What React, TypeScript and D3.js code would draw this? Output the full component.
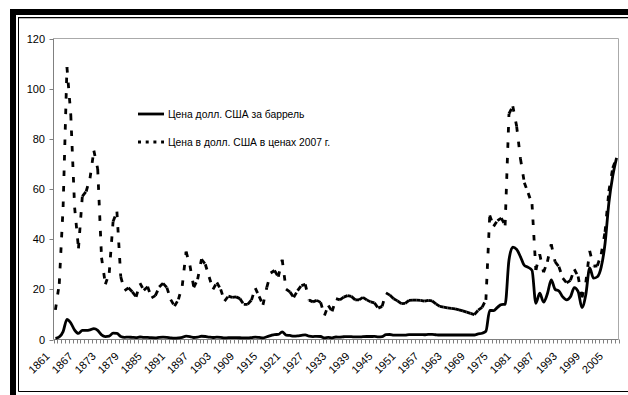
import React from "react";
import * as d3 from "d3";

// Crude oil price, 1861–2007: money of the day and 2007 dollars (USD per barrel)
const years: number[] = d3.range(1861, 2008);

const nominal: number[] = [
  0.49, 1.05, 3.15, 8.06, 6.59, 3.74, 2.41, 3.63, 3.64, 3.86,
  4.34, 3.64, 1.83, 1.17, 1.35, 2.56, 2.42, 1.19, 0.86, 0.95,
  0.86, 0.78, 1.0, 0.84, 0.88, 0.71, 0.67, 0.88, 0.94, 0.87,
  0.67, 0.56, 0.64, 0.84, 1.36, 1.18, 0.79, 0.91, 1.29, 1.19,
  0.96, 0.8, 0.94, 0.86, 0.62, 0.73, 0.72, 0.72, 0.7, 0.61,
  0.61, 0.74, 0.95, 0.81, 0.64, 1.1, 1.56, 1.98, 2.01, 3.07,
  1.73, 1.61, 1.34, 1.43, 1.68, 1.88, 1.3, 1.17, 1.27, 1.19,
  0.65, 0.87, 0.67, 1.0, 0.97, 1.09, 1.18, 1.13, 1.02, 1.02,
  1.14, 1.19, 1.2, 1.21, 1.05, 1.12, 1.9, 1.99, 1.78, 1.71,
  1.71, 1.71, 1.93, 1.93, 1.93, 1.93, 1.9, 2.08, 2.08, 1.9,
  1.8, 1.8, 1.8, 1.8, 1.8, 1.8, 1.8, 1.8, 1.8, 1.8,
  2.24, 2.48, 3.29, 11.58, 11.53, 12.8, 13.92, 14.02, 31.61, 36.83,
  35.93, 32.97, 29.55, 28.78, 27.56, 14.43, 18.44, 14.92, 18.23, 23.73,
  20.0, 19.32, 16.97, 15.82, 17.02, 20.67, 19.09, 12.72, 17.97, 28.5,
  24.44, 25.02, 28.83, 38.27, 54.52, 65.14, 72.39,
];

const real2007: number[] = [
  11.8, 22.2, 52.8, 108.6, 89.5, 52.6, 36.3, 57.1, 59.0, 64.3,
  75.3, 68.0, 32.6, 22.0, 26.6, 47.0, 51.0, 25.0, 19.5, 20.6,
  19.0, 17.0, 22.5, 19.6, 21.0, 16.6, 17.5, 20.9, 22.4, 20.7,
  15.9, 13.3, 16.0, 21.4, 35.0, 29.5, 20.8, 24.0, 32.0, 30.0,
  24.9, 20.0, 22.7, 20.0, 15.3, 17.3, 16.8, 17.0, 16.3, 14.0,
  14.0, 15.7, 20.5, 17.2, 13.8, 20.8, 26.5, 27.5, 25.0, 31.8,
  20.1, 19.0, 16.8, 19.5, 21.5, 22.0, 15.7, 15.0, 15.6, 14.8,
  9.6, 13.6, 11.2, 16.3, 15.8, 16.9, 17.5, 17.2, 15.8, 15.8,
  16.8, 15.8, 15.0, 14.6, 12.5, 13.2, 18.6, 17.7, 16.2, 15.4,
  14.3, 14.4, 15.6, 15.7, 15.7, 15.6, 15.3, 15.6, 15.4, 14.2,
  13.2, 12.9, 12.6, 12.4, 12.2, 11.8, 11.4, 10.9, 10.4, 9.9,
  11.7, 12.8, 15.8, 49.5, 45.1, 47.4, 48.4, 45.5, 90.0, 93.0,
  85.0, 72.0, 62.5, 58.4, 54.0, 27.7, 34.0, 26.8, 31.0, 38.0,
  31.0, 29.0, 24.5, 22.6, 23.6, 28.0, 25.1, 16.8, 22.8, 35.3,
  29.2, 29.4, 34.0, 42.9, 59.1, 68.4, 72.4,
];

const yTicks: number[] = [0, 20, 40, 60, 80, 100, 120];
const seriesNames: string[] = [
  "Цена долл. США за баррель",
  "Цена в долл. США в ценах 2007 г.",
];

const W = 628;
const H = 395;
const left = 53.5;
const right = 618.5;
const top = 38.5;
const bottom = 339.5;
const FONT = "'Liberation Sans', Arial, sans-serif";

export default function App() {
  const x = d3
    .scaleBand<number>()
    .domain(years)
    .range([left, right])
    .paddingInner(0)
    .paddingOuter(0);
  const y = d3.scaleLinear().domain([0, 120]).range([bottom, top]);
  const cx = (yr: number) => (x(yr) as number) + x.bandwidth() / 2;

  const solidLine = d3
    .line<number>()
    .x((_, i) => cx(years[i]))
    .y((v) => y(v))
    .curve(d3.curveMonotoneX);

  // dashed series: each yearly segment restarts its own dash pattern
  const dashSegs = real2007.slice(1).map((v, i) => ({
    x1: cx(years[i]),
    y1: y(real2007[i]),
    x2: cx(years[i + 1]),
    y2: y(v),
  }));

  const labelYears = years.filter((yr) => (yr - 1861) % 6 === 0);
  const tickPos = years.map((yr) => x(yr) as number).concat([right]);

  return (
    <div style={{ position: "fixed", left: 0, top: 0 }}>
      <svg width={W} height={H} style={{ display: "block", background: "#fff" }}>
        {/* frame */}
        <rect x={10} y={9} width={W - 10} height={6} fill="#000" />
        <rect x={10} y={9} width={6} height={H - 9} fill="#000" />
        <line x1={18} x2={W} y1={17.5} y2={17.5} stroke="#000" strokeWidth={1} />
        <line x1={18.5} x2={18.5} y1={17.5} y2={391.5} stroke="#000" strokeWidth={1} />
        <line x1={18.5} x2={W} y1={391.5} y2={391.5} stroke="#000" strokeWidth={1} />
        <line x1={19} x2={W} y1={18.5} y2={18.5} stroke="#bbb" strokeWidth={1} />

        {/* plot border */}
        <line x1={left} x2={right} y1={top} y2={top} stroke="#aaa" strokeWidth={1} />
        <line x1={right} x2={right} y1={top} y2={bottom} stroke="#aaa" strokeWidth={1} />

        {/* y axis */}
        <line x1={left} x2={left} y1={top} y2={bottom} stroke="#808080" strokeWidth={1} />
        {yTicks.map((t) => (
          <g key={t}>
            <line x1={left - 4} x2={left} y1={Math.round(y(t)) + 0.5} y2={Math.round(y(t)) + 0.5} stroke="#808080" />
            <text
              x={45}
              y={y(t)}
              textAnchor="end"
              dominantBaseline="central"
              fontFamily={FONT}
              fontSize={11}
              fill="#000"
            >
              {t}
            </text>
          </g>
        ))}

        {/* x axis */}
        <line x1={left} x2={right} y1={bottom} y2={bottom} stroke="#808080" strokeWidth={1} />
        {tickPos.map((p, i) => (
          <line key={i} x1={Math.round(p) + 0.5} x2={Math.round(p) + 0.5} y1={bottom} y2={bottom + 4} stroke="#808080" />
        ))}
        {labelYears.map((yr) => (
          <text
            key={yr}
            transform={`translate(${cx(yr) - 5},${357}) rotate(-45)`}
            textAnchor="end"
            fontFamily={FONT}
            fontSize={11}
            fill="#000"
          >
            {yr}
          </text>
        ))}

        {/* series */}
        <path d={solidLine(nominal) ?? ""} fill="none" stroke="#000" strokeWidth={2.8} strokeLinejoin="round" />
        {dashSegs.map((s, i) => (
          <line
            key={i}
            x1={s.x1}
            y1={s.y1}
            x2={s.x2}
            y2={s.y2}
            stroke="#000"
            strokeWidth={2.8}
            strokeDasharray="5.5 10"
            strokeLinecap="butt"
          />
        ))}

        {/* legend */}
        <line x1={138} x2={164} y1={114} y2={114} stroke="#000" strokeWidth={2.8} />
        <text x={168} y={114} dominantBaseline="central" fontFamily={FONT} fontSize={10.3} fill="#000">
          {seriesNames[0]}
        </text>
        <line x1={138} x2={164} y1={142} y2={142} stroke="#000" strokeWidth={2.8} strokeDasharray="3 4.7" />
        <text x={168} y={142} dominantBaseline="central" fontFamily={FONT} fontSize={10.3} fill="#000">
          {seriesNames[1]}
        </text>
      </svg>
    </div>
  );
}
